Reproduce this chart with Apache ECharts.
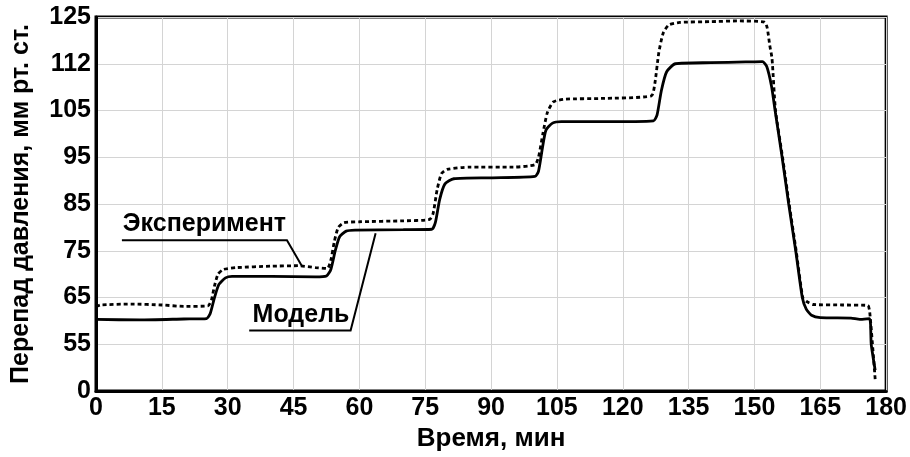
<!DOCTYPE html>
<html>
<head>
<meta charset="utf-8">
<script src="https://cdn.jsdelivr.net/npm/echarts@6/dist/echarts.min.js"></script>
<style>html,body{margin:0;padding:0;background:#fff}#c{width:910px;height:457px}</style>
</head>
<body>
<div id="c"></div>
<script>
// Tick labels of the (non-linear) pressure axis; ticks are evenly spaced
const yTickLabels = [0, 55, 65, 75, 85, 95, 105, 112, 125];
const xTicks = [0, 15, 30, 45, 60, 75, 90, 105, 120, 135, 150, 165, 180];

// Модель (solid): [time, pressure]
const modelData = [
  [0, 60.3], [10, 60.2], [20, 60.4], [25.2, 60.5], [26.0, 61.5], [27.0, 65.0], [28.0, 67.8],
  [29.5, 69.2], [31, 69.5], [40, 69.5], [50, 69.4], [52.5, 69.6], [53.5, 71], [54.5, 75],
  [55.5, 78], [57, 79.2], [59, 79.4], [70, 79.5], [76.5, 79.6], [77.3, 81], [78.3, 86],
  [79.5, 89.3], [81.5, 90.4], [90, 90.6], [100, 90.9], [100.8, 92], [101.7, 97], [102.5, 100.8],
  [104, 102.3], [106, 102.6], [115, 102.6], [127, 102.8], [127.8, 104], [128.8, 108],
  [130, 110.8], [132, 112.0], [140, 112.3], [148, 112.5], [151.8, 112.6], [152.8, 111.6],
  [153.9, 108.6], [154.7, 105], [156.3, 95], [157.8, 85], [159.4, 75], [160.9, 65],
  [161.8, 62.5], [163, 61.2], [165, 60.7], [172, 60.6], [174, 60.3], [176.2, 60.5],
  [176.6, 55], [177.5, 24.5]
];

// Эксперимент (dashed): [time, pressure]
const expData = [
  [0, 63.0], [1, 63.4], [8, 63.6], [15, 63.4], [20, 63.1], [25.5, 63.2], [26.3, 64.5],
  [27.0, 67.5], [27.8, 70.0], [29, 71.0], [32, 71.4], [40, 71.7], [46, 71.8], [50, 71.4],
  [52.7, 71.2], [53.5, 73], [54.3, 77], [55.2, 80.0], [56.5, 81.0], [60, 81.2], [70, 81.4],
  [76, 81.7], [76.8, 83], [77.7, 88], [78.7, 91.5], [80, 92.4], [85, 92.9], [95, 92.9],
  [100, 93.4], [100.8, 95], [101.8, 100], [102.8, 104.5], [104.2, 106.3], [107, 106.7],
  [115, 106.8], [126.5, 107.2], [127.3, 109], [128.2, 115], [129.2, 120.5], [130.5, 122.8],
  [133, 123.5], [140, 123.7], [146, 123.9], [152.3, 123.6], [152.9, 122], [153.5, 117],
  [154.0, 113.5], [154.8, 105], [156.4, 95], [157.9, 85], [159.5, 75], [161.0, 65],
  [161.8, 64.2], [163.4, 63.5], [170, 63.4], [175.8, 63.3], [176.3, 61.5], [177.5, 14]
];

// Annotation anchors in data space [time, axis position]
const expLabelPos = [24.7, 3.56];
const expLeader = [[5.9, 3.225], [43.5, 3.225], [46.9, 2.674]];
const modelLabelPos = [46.7, 1.63];
const modelLeader = [[34.9, 1.294], [58.0, 1.294], [63.7, 3.374]];

// map pressure value to the evenly spaced axis position (piecewise linear between ticks)
function toAxis(p) {
  for (let i = 0; i < yTickLabels.length - 1; i++) {
    const a = yTickLabels[i], b = yTickLabels[i + 1];
    if (p <= b || i === yTickLabels.length - 2) return i + (p - a) / (b - a);
  }
}
const conv = d => d.map(([t, p]) => [t, toAxis(p)]);

const FONT = 'Liberation Sans, Arial, sans-serif';
const chart = echarts.init(document.getElementById('c'));
chart.setOption({
  animation: false,
  backgroundColor: '#fff',
  grid: { left: 96, right: 20, top: 17, bottom: 63, show: true, borderColor: '#000', borderWidth: 3 },
  xAxis: {
    type: 'value', min: 0, max: 180, interval: 15,
    name: 'Время, мин', nameLocation: 'middle', nameGap: 35,
    nameTextStyle: { fontFamily: FONT, fontWeight: 'bold', fontSize: 26, color: '#000' },
    axisLine: { show: true, lineStyle: { color: '#000', width: 3 } },
    axisTick: { show: false },
    axisLabel: { fontFamily: FONT, fontWeight: 'bold', fontSize: 25, color: '#000', margin: 5 },
    splitLine: { show: true, lineStyle: { color: '#d4d4d4', width: 1 } }
  },
  yAxis: {
    type: 'value', min: 0, max: 8, interval: 1,
    name: 'Перепад давления, мм рт. ст.', nameLocation: 'middle', nameGap: 62, nameRotate: 90,
    nameTextStyle: { fontFamily: FONT, fontWeight: 'bold', fontSize: 25, color: '#000' },
    axisLine: { show: true, lineStyle: { color: '#000', width: 3 } },
    axisTick: { show: false },
    axisLabel: { fontFamily: FONT, fontWeight: 'bold', fontSize: 25, color: '#000', margin: 5,
      formatter: v => String(yTickLabels[Math.round(v)]) },
    splitLine: { show: true, lineStyle: { color: '#d4d4d4', width: 1 } }
  },
  series: [
    { name: 'Эксперимент', type: 'line', data: conv(expData), showSymbol: false, smooth: 0.2,
      lineStyle: { color: '#000', width: 2.8, type: [4, 3] }, z: 3 },
    { name: 'Модель', type: 'line', data: conv(modelData), showSymbol: false, smooth: 0.2,
      lineStyle: { color: '#000', width: 2.8 }, z: 4 }
  ]
});

function px(p) { return chart.convertToPixel({ gridIndex: 0 }, p); }
const lbl = (pos, text) => {
  const q = px(pos);
  return { type: 'text', x: q[0], y: q[1], z: 10,
    style: { text, fontFamily: FONT, fontWeight: 'bold', fontSize: 25, fill: '#000', align: 'center', verticalAlign: 'middle' } };
};
const leader = pts => ({ type: 'polyline', z: 10, shape: { points: pts.map(px) }, style: { stroke: '#000', lineWidth: 2, fill: null } });
chart.setOption({ graphic: [
  lbl(expLabelPos, 'Эксперимент'), leader(expLeader),
  lbl(modelLabelPos, 'Модель'), leader(modelLeader)
] });
</script>
</body>
</html>
